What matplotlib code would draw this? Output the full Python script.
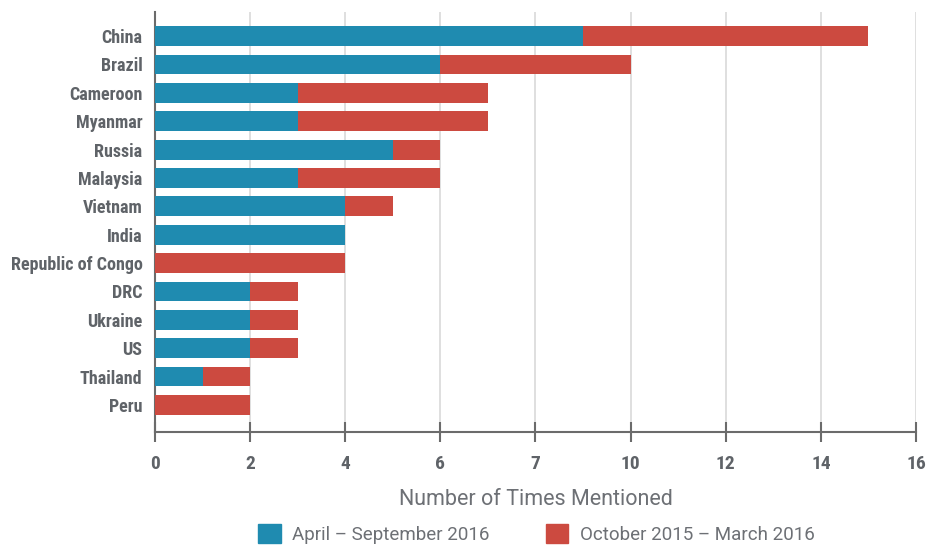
import matplotlib.pyplot as plt
import matplotlib.patches as mpatches
from matplotlib import font_manager

# 数据
countries = ['China', 'Brazil', 'Cameroon', 'Myanmar', 'Russia', 'Malaysia', 'Vietnam',
             'India', 'Republic of Congo', 'DRC', 'Ukraine', 'US', 'Thailand', 'Peru']
apr_sep_2016 = [9, 6, 3, 3, 5, 3, 4, 4, 0, 2, 2, 2, 1, 0]
oct15_mar16 = [6, 4, 4, 4, 1, 3, 1, 0, 4, 1, 1, 1, 1, 2]
xtick_vals = [0, 2, 4, 6, 8, 10, 12, 14, 16]
xtick_labels = ['0', '2', '4', '6', '7', '10', '12', '14', '16']

blue = '#1f8bb0'
red = '#cc4a40'
grey = '#5f6368'
names = {f.name for f in font_manager.fontManager.ttflist}
cond = [n for n in ['Roboto Condensed', 'Liberation Sans Narrow', 'DejaVu Sans Condensed']
        if n in names] + ['DejaVu Sans']
plain = [n for n in ['Roboto', 'Lato'] if n in names] + ['DejaVu Sans']

fig = plt.figure(figsize=(9.28, 5.46), dpi=100)
ax = fig.add_axes([0.167, 0.209, 0.82, 0.769])

y = list(range(len(countries)))
ax.barh(y, apr_sep_2016, height=0.7, color=blue, zorder=3)
ax.barh(y, oct15_mar16, left=apr_sep_2016, height=0.7, color=red, zorder=3)

ax.set_xlim(0, 16)
ax.set_ylim(13.95, -0.85)
ax.set_yticks(y)
ax.set_yticklabels(countries, family=cond, fontweight='bold', fontsize=13,
                   fontstretch='condensed', color=grey)
ax.set_xticks(xtick_vals)
ax.set_xticklabels(xtick_labels, family=cond, fontweight='bold', fontsize=14,
                   fontstretch='condensed', color=grey)
ax.tick_params(axis='y', length=0, pad=9)
ax.tick_params(axis='x', direction='inout', length=14, width=1.5, color='#6b6b6b', pad=10)

ax.grid(axis='x', color='#d9d9d9', linewidth=1.2, zorder=0)
for s in ['top', 'right']:
    ax.spines[s].set_visible(False)
for s in ['left', 'bottom']:
    ax.spines[s].set_color('#6b6b6b')
    ax.spines[s].set_linewidth(1.5)

ax.set_xlabel('Number of Times Mentioned', family=plain, fontweight='normal',
              fontsize=15.5, color='#6d7075', labelpad=11)

handles = [mpatches.Patch(color=blue, label='April – September 2016'),
           mpatches.Patch(color=red, label='October 2015 – March 2016')]
fig.legend(handles=handles, loc='center', bbox_to_anchor=(0.578, 0.022), ncol=2,
           frameon=False, labelcolor='#6d7075', handlelength=1.2,
           prop={'family': plain, 'weight': 'normal', 'size': 13.5},
           handleheight=1.2, handletextpad=0.6, columnspacing=3)

plt.savefig('out.png', dpi=100)
